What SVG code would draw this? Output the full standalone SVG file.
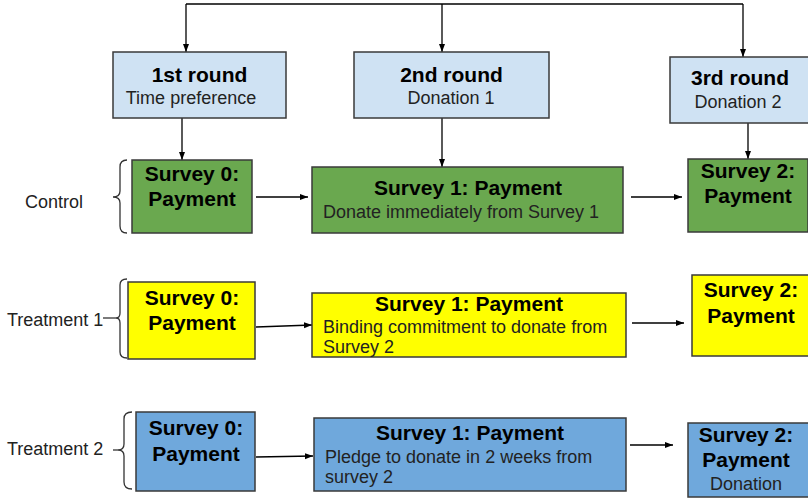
<svg xmlns="http://www.w3.org/2000/svg" width="808" height="499" viewBox="0 0 808 499">
<defs>
<marker id="ah" markerUnits="userSpaceOnUse" markerWidth="8" markerHeight="8" viewBox="0 0 8 8" refX="8" refY="4" orient="auto">
<path d="M0,1 L8,4 L0,7 Z" fill="#000"/>
</marker>
<style>
.box{stroke:#3a3a3a;stroke-width:1.5}
.round{fill:#cfe2f3}
.green{fill:#6aa84f}
.yellow{fill:#ffff00}
.blue{fill:#6fa8dc}
.t{font-family:"Liberation Sans",Arial,sans-serif;font-weight:bold;font-size:21px;fill:#000;text-anchor:middle}
.b{font-family:"Liberation Sans",Arial,sans-serif;font-size:18px;fill:#222}
.bc{text-anchor:middle}
.ln{fill:none;stroke:#000;stroke-width:1.3}
.br{fill:none;stroke:#333;stroke-width:1.3}
</style>
</defs>
<rect width="808" height="499" fill="#fff"/>

<g id="connectors">
<path class="ln" d="M186,4 H743"/>
<path class="ln" d="M186,4 V52" marker-end="url(#ah)"/>
<path class="ln" d="M442,4 V52" marker-end="url(#ah)"/>
<path class="ln" d="M743,4 V57" marker-end="url(#ah)"/>
<path class="ln" d="M182,118 V160" marker-end="url(#ah)"/>
<path class="ln" d="M442,118 V167" marker-end="url(#ah)"/>
<path class="ln" d="M748,123 V159" marker-end="url(#ah)"/>
<path class="ln" d="M256,197 H308" marker-end="url(#ah)"/>
<path class="ln" d="M631,197 H682" marker-end="url(#ah)"/>
<path class="ln" d="M256,327 L312,325" marker-end="url(#ah)"/>
<path class="ln" d="M632,323 H684" marker-end="url(#ah)"/>
<path class="ln" d="M256,457 L313,456" marker-end="url(#ah)"/>
<path class="ln" d="M630,445 H673" marker-end="url(#ah)"/>
</g>

<g id="round1">
<rect class="box round" x="113" y="52" width="173" height="66"/>
<text class="t" x="199.5" y="82">1st round</text>
<text class="b bc" x="191" y="104">Time preference</text>
</g>
<g id="round2">
<rect class="box round" x="354" y="52" width="195" height="66"/>
<text class="t" x="451.5" y="82">2nd round</text>
<text class="b bc" x="451" y="104">Donation 1</text>
</g>
<g id="round3">
<rect class="box round" x="670" y="57" width="140" height="66"/>
<text class="t" x="740" y="85">3rd round</text>
<text class="b bc" x="738" y="108">Donation 2</text>
</g>

<g id="control-label">
<path class="br" d="M127,160 Q120,160 120,167 L120,191 Q120,197 113,197 Q120,197 120,203 L120,226 Q120,233 127,233"/>
<text class="b" x="25" y="208">Control</text>
</g>
<g id="control-s0">
<rect class="box green" x="132" y="160" width="120" height="73"/>
<text class="t" x="192" y="181">Survey 0:</text>
<text class="t" x="192" y="206">Payment</text>
</g>
<g id="control-s1">
<rect class="box green" x="312" y="167" width="311" height="66"/>
<text class="t" x="468" y="195">Survey 1: Payment</text>
<text class="b" x="323" y="218">Donate immediately from Survey 1</text>
</g>
<g id="control-s2">
<rect class="box green" x="688" y="159" width="120" height="73"/>
<text class="t" x="748" y="178">Survey 2:</text>
<text class="t" x="748" y="203">Payment</text>
</g>

<g id="treatment1-label">
<path class="br" d="M127,279 Q120,279 120,285 L120,313 Q120,318 116,318 Q120,318 120,323 L120,352 Q120,358 127,358"/>
<path class="br" d="M103,318 H116"/>
<text class="b" x="7" y="326">Treatment 1</text>
</g>
<g id="treatment1-s0">
<rect class="box yellow" x="128" y="282" width="127" height="77"/>
<text class="t" x="192" y="305">Survey 0:</text>
<text class="t" x="192" y="330">Payment</text>
</g>
<g id="treatment1-s1">
<rect class="box yellow" x="312" y="293" width="314" height="64"/>
<text class="t" x="469" y="311">Survey 1: Payment</text>
<text class="b" x="323" y="333">Binding commitment to donate from</text>
<text class="b" x="323" y="353">Survey 2</text>
</g>
<g id="treatment1-s2">
<rect class="box yellow" x="692" y="275" width="118" height="81"/>
<text class="t" x="751" y="297">Survey 2:</text>
<text class="t" x="751" y="323">Payment</text>
</g>

<g id="treatment2-label">
<path class="br" d="M132,412 Q124,412 124,419 L124,444 Q124,450 118,450 Q124,450 124,456 L124,482 Q124,489 132,489"/>
<path class="br" d="M113,450 H118"/>
<text class="b" x="7" y="455">Treatment 2</text>
</g>
<g id="treatment2-s0">
<rect class="box blue" x="136" y="412" width="119" height="79"/>
<text class="t" x="196" y="435">Survey 0:</text>
<text class="t" x="196" y="461">Payment</text>
</g>
<g id="treatment2-s1">
<rect class="box blue" x="314" y="418" width="312" height="73"/>
<text class="t" x="470" y="440">Survey 1: Payment</text>
<text class="b" x="325" y="463">Pledge to donate in 2 weeks from</text>
<text class="b" x="325" y="483">survey 2</text>
</g>
<g id="treatment2-s2">
<rect class="box blue" x="688" y="423" width="122" height="74"/>
<text class="t" x="746" y="442">Survey 2:</text>
<text class="t" x="746" y="467">Payment</text>
<text class="b bc" x="746" y="490">Donation</text>
</g>
</svg>
